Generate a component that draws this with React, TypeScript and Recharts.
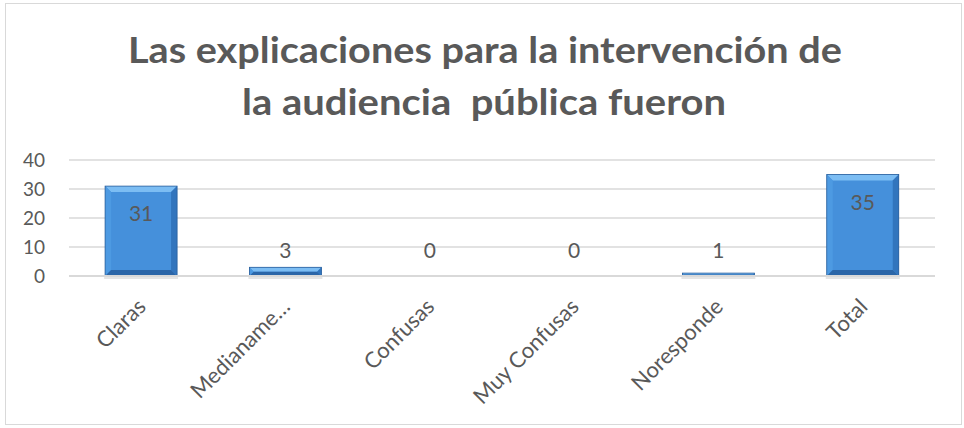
import React from 'react';
import { BarChart, Bar, XAxis, YAxis, CartesianGrid, LabelList } from 'recharts';

const categories = ['Claras', 'Medianame…', 'Confusas', 'Muy Confusas', 'Noresponde', 'Total'];
const values = [31, 3, 0, 0, 1, 35];
const yTicks = [0, 10, 20, 30, 40];
const titleLines = ['Las explicaciones para la intervención de', 'la audiencia  pública fueron'];

const data = categories.map((c, i) => ({ name: c, value: values[i] }));

const TEXT = '#595959';
const FONT = 'Lato, "Open Sans", sans-serif';

const BevelBar = (props: any) => {
  const { x, y, width: w, height: h } = props;
  if (w == null || h == null || h <= 0) return null;
  const b = Math.min(6, h / 2);
  return (
    <g>
      <rect x={x - 1} y={y + h} width={w + 2} height={3} fill="rgba(0,0,0,0.10)" />
      <rect x={x} y={y} width={w} height={h} fill="#4590db" />
      <polygon points={`${x},${y} ${x + w},${y} ${x + w - b},${y + b} ${x + b},${y + b}`} fill="#7cbdf3" />
      <polygon points={`${x},${y} ${x + b},${y + b} ${x + b},${y + h - b} ${x},${y + h}`} fill="#4d9ae2" />
      <polygon points={`${x + w},${y} ${x + w - b},${y + b} ${x + w - b},${y + h - b} ${x + w},${y + h}`} fill="#3275bd" />
      <polygon points={`${x},${y + h} ${x + b},${y + h - b} ${x + w - b},${y + h - b} ${x + w},${y + h}`} fill="#2b66a8" />
      <rect x={x} y={y} width={w} height={h} fill="none" stroke="#2a5f9c" strokeWidth={0.8} />
    </g>
  );
};

const ValueLabel = (props: any) => {
  const { x, y, width, value } = props;
  const cx = x + width / 2;
  const by = Math.min(y + 35, 258);
  return (
    <text x={cx} y={by} textAnchor="middle" fill={TEXT} fontSize={21} fontFamily={FONT}>
      {value}
    </text>
  );
};

const XTick = (props: any) => {
  const { x, payload } = props;
  const tx = x + 6;
  const ty = 308;
  return (
    <text
      x={tx}
      y={ty}
      textAnchor="end"
      fill={TEXT}
      fontSize={22}
      fontFamily={FONT}
      transform={`rotate(-45, ${tx}, ${ty})`}
    >
      {payload.value}
    </text>
  );
};

export default function App() {
  return (
    <div style={{ position: 'absolute', left: 0, top: 0, width: 964, height: 428, background: '#fff' }}>
      <div
        style={{
          position: 'absolute',
          left: 5,
          top: 3,
          width: 957,
          height: 422,
          border: '1.5px solid #d9d9d9',
          boxSizing: 'border-box',
        }}
      />
      <svg width={964} height={140} style={{ position: 'absolute', left: 0, top: 0 }}>
        <text
          x={485}
          y={63}
          textAnchor="middle"
          fill={TEXT}
          fontSize={36}
          fontWeight={700}
          fontFamily={FONT}
          textLength={714}
          lengthAdjust="spacingAndGlyphs"
        >
          {titleLines[0]}
        </text>
        <text
          x={484}
          y={115}
          textAnchor="middle"
          fill={TEXT}
          fontSize={36}
          fontWeight={700}
          fontFamily={FONT}
          textLength={484}
          lengthAdjust="spacingAndGlyphs"
          style={{ whiteSpace: 'pre' }}
        >
          {titleLines[1]}
        </text>
      </svg>
      <div style={{ position: 'absolute', left: 0, top: 0 }}>
        <BarChart
          width={964}
          height={428}
          data={data}
          margin={{ top: 160, right: 29, bottom: 22, left: 19 }}
          barCategoryGap="25%"
        >
          <CartesianGrid vertical={false} stroke="#d9d9d9" strokeWidth={1.5} />
          <XAxis
            dataKey="name"
            interval={0}
            height={130}
            tickLine={false}
            axisLine={{ stroke: '#d9d9d9', strokeWidth: 2 }}
            tick={<XTick />}
          />
          <YAxis
            width={50}
            domain={[0, 40]}
            ticks={yTicks}
            axisLine={false}
            tickLine={false}
            tickMargin={18}
            tick={{ fill: TEXT, fontSize: 19, fontFamily: FONT }}
          />
          <Bar dataKey="value" shape={<BevelBar />} isAnimationActive={false}>
            <LabelList dataKey="value" content={<ValueLabel />} />
          </Bar>
        </BarChart>
      </div>
    </div>
  );
}
